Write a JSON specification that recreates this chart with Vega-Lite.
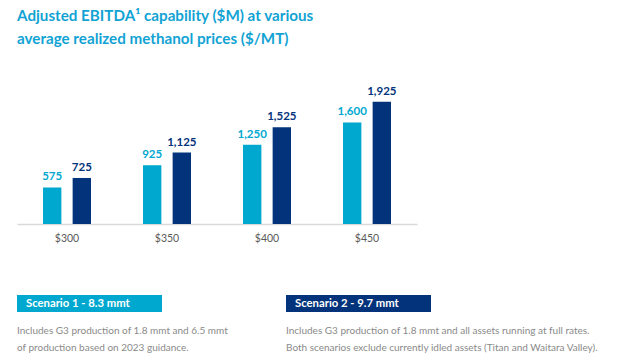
{
  "$schema": "https://vega.github.io/schema/vega-lite/v6.json",
  "background": "white",
  "padding": {"left": 17, "top": 8, "right": 0, "bottom": 0},
  "bounds": "flush",
  "spacing": 71,
  "title": {
    "text": ["Adjusted EBITDA¹ capability ($M) at various", "average realized methanol prices ($/MT)"],
    "anchor": "start",
    "frame": "group",
    "font": "Lato",
    "fontSize": 15.2,
    "fontWeight": "bold",
    "color": "#12A3D4",
    "lineHeight": 23,
    "baseline": "top",
    "offset": 39
  },
  "config": {"view": {"stroke": null}, "font": "Lato"},
  "vconcat": [
    {
      "width": 400,
      "height": 127,
      "data": {"values": [
        {"price": "$300", "scenario": "Scenario 1", "ebitda": 575},
        {"price": "$300", "scenario": "Scenario 2", "ebitda": 725},
        {"price": "$350", "scenario": "Scenario 1", "ebitda": 925},
        {"price": "$350", "scenario": "Scenario 2", "ebitda": 1125},
        {"price": "$400", "scenario": "Scenario 1", "ebitda": 1250},
        {"price": "$400", "scenario": "Scenario 2", "ebitda": 1525},
        {"price": "$450", "scenario": "Scenario 1", "ebitda": 1600},
        {"price": "$450", "scenario": "Scenario 2", "ebitda": 1925}
      ]},
      "encoding": {
        "x": {"field": "price", "type": "nominal", "sort": null,
          "scale": {"paddingInner": 0.52, "paddingOuter": 0.26},
          "axis": {"title": null, "labelAngle": 0, "ticks": false, "domainColor": "#D9D9D9", "domainWidth": 1.5,
            "labelColor": "#595959", "labelFontSize": 10.5, "labelPadding": 9, "labelFont": "Lato"}},
        "xOffset": {"field": "scenario", "type": "nominal", "scale": {"paddingInner": 0.38, "paddingOuter": 0}},
        "y": {"field": "ebitda", "type": "quantitative", "scale": {"domain": [0, 2000]}, "axis": null},
        "color": {"field": "scenario", "type": "nominal", "scale": {"domain": ["Scenario 1", "Scenario 2"], "range": ["#00A8CF", "#03337A"]}, "legend": null}
      },
      "layer": [
        {"mark": {"type": "bar"}},
        {"mark": {"type": "text", "baseline": "bottom", "dy": -5, "fontSize": 11.5, "fontWeight": "bold", "font": "Lato"},
          "encoding": {"text": {"field": "ebitda", "type": "quantitative", "format": ","}}}
      ]
    },
    {
      "width": 414,
      "height": 51,
      "data": {"values": [
        {"scenario": 1, "line": 0, "kind": "header", "text": "Scenario 1 - 8.3 mmt"},
        {"scenario": 1, "line": 1, "kind": "body", "text": "Includes G3 production of 1.8 mmt and 6.5 mmt"},
        {"scenario": 1, "line": 2, "kind": "body", "text": "of production based on 2023 guidance."},
        {"scenario": 2, "line": 0, "kind": "header", "text": "Scenario 2 - 9.7 mmt"},
        {"scenario": 2, "line": 1, "kind": "body", "text": "Includes G3 production of 1.8 mmt and all assets running at full rates."},
        {"scenario": 2, "line": 2, "kind": "body", "text": "Both scenarios exclude currently idled assets (Titan and Waitara Valley)."}
      ]},
      "encoding": {
        "x": {"field": "scenario", "type": "ordinal", "scale": {"paddingInner": 0.461, "paddingOuter": 0, "align": 0}, "axis": null},
        "y": {"field": "line", "type": "ordinal", "scale": {"domain": [0, 1, 2], "paddingInner": 0, "paddingOuter": 0}, "axis": null}
      },
      "layer": [
        {"transform": [{"filter": "datum.kind === 'header'"}],
          "mark": {"type": "bar"},
          "encoding": {"color": {"field": "scenario", "type": "ordinal", "scale": {"domain": [1, 2], "range": ["#00A8CF", "#03337A"]}, "legend": null}}},
        {"transform": [{"filter": "datum.kind === 'header'"}],
          "mark": {"type": "text", "align": "left", "dx": 9, "fontSize": 11.3, "fontWeight": "bold", "color": "white", "font": "Lato"},
          "encoding": {"x": {"field": "scenario", "type": "ordinal", "bandPosition": 0}, "text": {"field": "text"}}},
        {"transform": [{"filter": "datum.kind === 'body'"}],
          "mark": {"type": "text", "align": "left", "dy": 10, "fontSize": 10, "color": "#8A8A8A", "font": "Lato"},
          "encoding": {"x": {"field": "scenario", "type": "ordinal", "bandPosition": 0}, "text": {"field": "text"}}}
      ]
    }
  ]
}
